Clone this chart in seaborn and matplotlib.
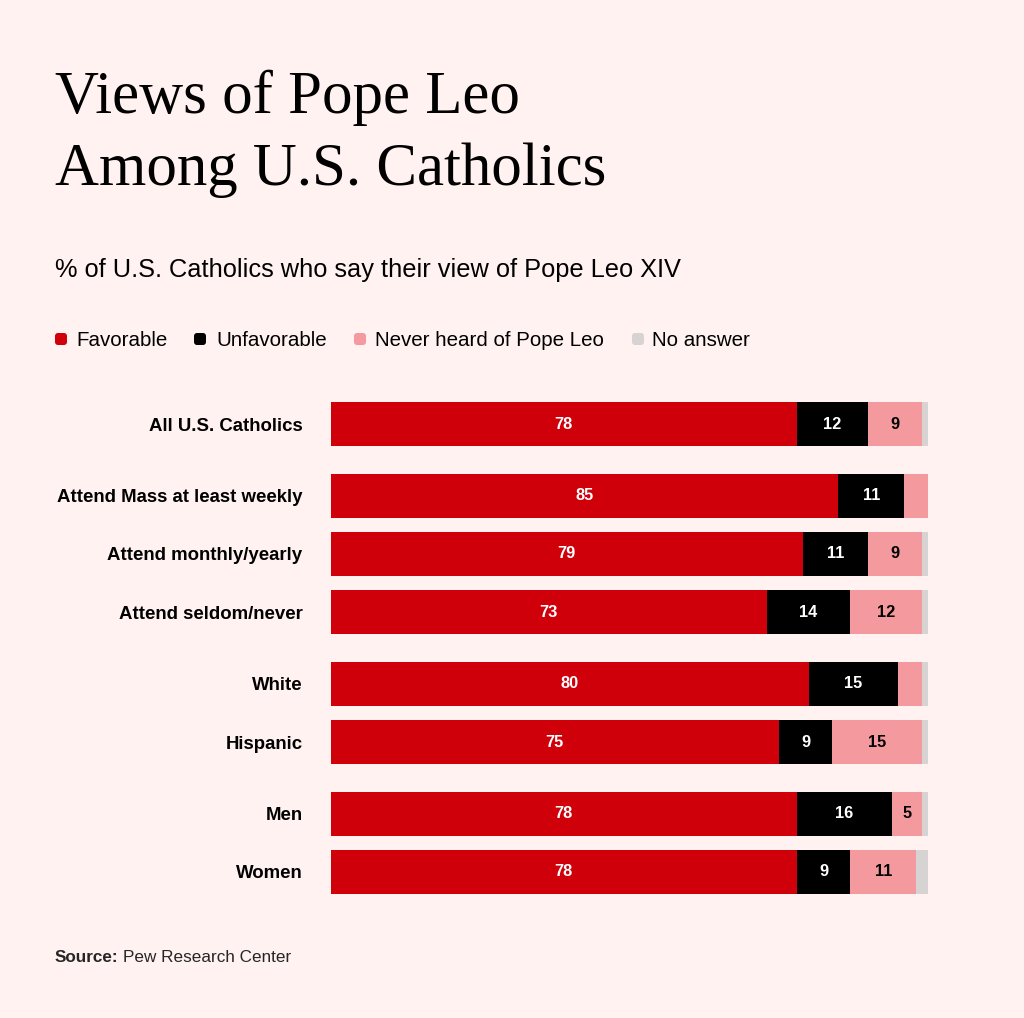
import pandas as pd
import numpy as np
import matplotlib
matplotlib.use('Agg')
import matplotlib.pyplot as plt
from matplotlib.patches import FancyBboxPatch
import seaborn as sns

# data
groups = ['All U.S. Catholics', 'Attend Mass at least weekly', 'Attend monthly/yearly',
          'Attend seldom/never', 'White', 'Hispanic', 'Men', 'Women']
favorable = [78, 85, 79, 73, 80, 75, 78, 78]
unfavorable = [12, 11, 11, 14, 15, 9, 16, 9]
never_heard = [9, 4, 9, 12, 4, 15, 5, 11]
no_answer = [1, 0, 1, 1, 1, 1, 1, 2]

series_names = ['Favorable', 'Unfavorable', 'Never heard of Pope Leo', 'No answer']
colors = ['#D0000B', '#000000', '#F4999D', '#D6D3D2']
bg = '#FFF2F1'

# row positions (gaps between groups)
ypos = [0, 1.24, 2.24, 3.24, 4.48, 5.48, 6.72, 7.72]

df = pd.DataFrame({'group': groups, 'y': ypos, 'Favorable': favorable,
                   'Unfavorable': unfavorable, 'Never heard of Pope Leo': never_heard,
                   'No answer': no_answer})
cum = df[series_names].cumsum(axis=1)

sns.set_theme(style='white')
plt.rcParams['font.family'] = ['Liberation Sans', 'DejaVu Sans']

fig = plt.figure(figsize=(10.24, 10.18), dpi=100, facecolor=bg)
W, H = 1024, 1018
ax = fig.add_axes([331 / W, 1 - 894 / H, 597 / W, 492 / H])
ax.set_facecolor(bg)

# stacked bars drawn as overlaid cumulative bars
for i in range(len(series_names) - 1, -1, -1):
    d = pd.DataFrame({'val': cum.iloc[:, i], 'y': df['y']})
    sns.barplot(data=d, x='val', y='y', orient='y', native_scale=True,
                color=colors[i], width=44 / 58, errorbar=None, saturation=1,
                linewidth=0, ax=ax)

# value labels
for r in range(len(groups)):
    left = 0
    for i, name in enumerate(series_names):
        v = df[name].iloc[r]
        if v >= 5:
            tc = 'white' if i < 2 else 'black'
            ax.text(left + v / 2, ypos[r], str(v), ha='center', va='center',
                    color=tc, fontsize=11.8, fontweight='bold')
        left += v

ax.set_xlim(0, 100)
ax.set_ylim(7.72 + 22 / 58, -22 / 58)
ax.set_xticks([])
ax.set_yticks(ypos)
ax.set_yticklabels(groups, fontsize=13.4, fontweight='bold', color='black')
ax.tick_params(axis='y', length=0, pad=20.5)
ax.set_xlabel('')
ax.set_ylabel('')
sns.despine(ax=ax, left=True, bottom=True)

# title and subtitle
fig.text(55 / W, 1 - 113 / H, 'Views of Pope Leo', family='Liberation Serif',
         fontsize=43.8, va='baseline', ha='left', color='black')
fig.text(55 / W, 1 - 185 / H, 'Among U.S. Catholics', family='Liberation Serif',
         fontsize=43.8, va='baseline', ha='left', color='black')
fig.text(55 / W, 1 - 270 / H, '% of U.S. Catholics who say their view of Pope Leo XIV',
         fontsize=18.3, va='center', ha='left', color='black')

# legend
leg_marker_x = [55, 194, 354, 632]
leg_text_x = [76, 216, 375, 652]
for name, c, mx, tx in zip(series_names, colors, leg_marker_x, leg_text_x):
    p = FancyBboxPatch((mx / 100, (H - 345) / 100), 0.12, 0.12,
                       boxstyle='round,pad=0,rounding_size=0.03',
                       transform=fig.dpi_scale_trans, facecolor=c, edgecolor='none')
    fig.patches.append(p)
    fig.text(tx / W, 1 - 341 / H, name, fontsize=14.8, va='center', ha='left', color='black')

# source
fig.text(55 / W, 1 - 958 / H, 'Source:', fontsize=12.3, fontweight='bold', va='center', ha='left')
fig.text(123 / W, 1 - 958 / H, 'Pew Research Center', fontsize=12.3, va='center', ha='left')

fig.savefig('out.png', dpi=100, facecolor=bg)
